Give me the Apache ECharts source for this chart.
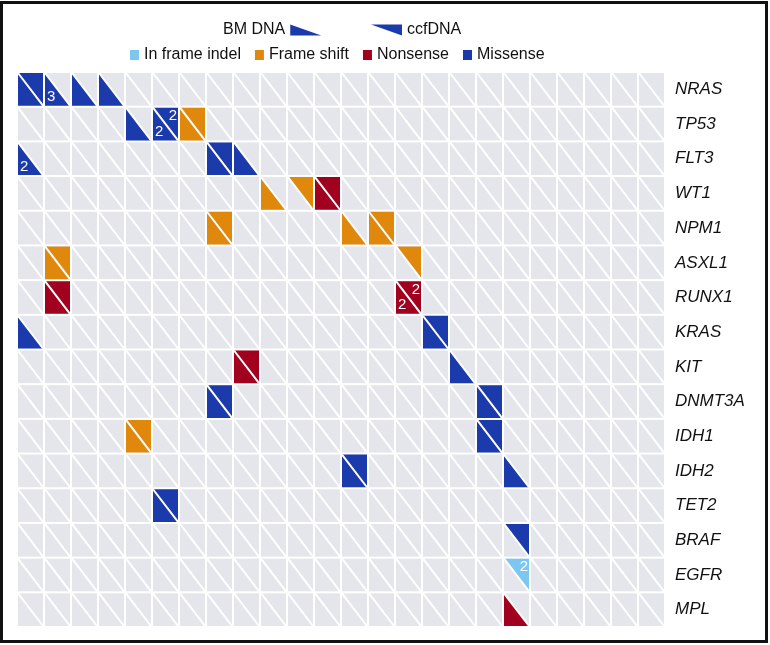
<!DOCTYPE html>
<html>
<head>
<meta charset="utf-8">
<script src="https://cdn.jsdelivr.net/npm/echarts@6/dist/echarts.min.js"></script>
<style>html,body{margin:0;padding:0;background:#fff;}#chart{width:770px;height:645px;}</style>
</head>
<body>
<div id="chart"></div>
<script>
const genes = ['NRAS','TP53','FLT3','WT1','NPM1','ASXL1','RUNX1','KRAS','KIT','DNMT3A','IDH1','IDH2','TET2','BRAF','EGFR','MPL'];
const patients = ['P1','P2','P3','P4','P5','P6','P7','P8','P9','P10','P11','P12','P13','P14','P15','P16','P17','P18','P19','P20','P21','P22','P23','P24'];
const mutationTypes = ['In frame indel','Frame shift','Nonsense','Missense'];
const sampleTypes = ['BM DNA','ccfDNA'];

// [patient, gene, mutation type, count]
const bmDNA = [
  ['P1','NRAS','Missense',1], ['P2','NRAS','Missense',3], ['P3','NRAS','Missense',1], ['P4','NRAS','Missense',1],
  ['P5','TP53','Missense',1], ['P6','TP53','Missense',2], ['P7','TP53','Frame shift',1],
  ['P1','FLT3','Missense',2], ['P8','FLT3','Missense',1], ['P9','FLT3','Missense',1],
  ['P10','WT1','Frame shift',1], ['P12','WT1','Nonsense',1],
  ['P8','NPM1','Frame shift',1], ['P13','NPM1','Frame shift',1], ['P14','NPM1','Frame shift',1],
  ['P2','ASXL1','Frame shift',1],
  ['P2','RUNX1','Nonsense',1], ['P15','RUNX1','Nonsense',2],
  ['P1','KRAS','Missense',1], ['P16','KRAS','Missense',1],
  ['P9','KIT','Nonsense',1], ['P17','KIT','Missense',1],
  ['P8','DNMT3A','Missense',1], ['P18','DNMT3A','Missense',1],
  ['P5','IDH1','Frame shift',1], ['P18','IDH1','Missense',1],
  ['P13','IDH2','Missense',1], ['P19','IDH2','Missense',1],
  ['P6','TET2','Missense',1],
  ['P19','MPL','Nonsense',1]
];
const ccfDNA = [
  ['P1','NRAS','Missense',1],
  ['P6','TP53','Missense',2], ['P7','TP53','Frame shift',1],
  ['P8','FLT3','Missense',1],
  ['P11','WT1','Frame shift',1], ['P12','WT1','Nonsense',1],
  ['P8','NPM1','Frame shift',1], ['P14','NPM1','Frame shift',1],
  ['P2','ASXL1','Frame shift',1], ['P15','ASXL1','Frame shift',1],
  ['P2','RUNX1','Nonsense',1], ['P15','RUNX1','Nonsense',2],
  ['P16','KRAS','Missense',1],
  ['P9','KIT','Nonsense',1],
  ['P8','DNMT3A','Missense',1], ['P18','DNMT3A','Missense',1],
  ['P5','IDH1','Frame shift',1], ['P18','IDH1','Missense',1],
  ['P13','IDH2','Missense',1],
  ['P6','TET2','Missense',1],
  ['P19','BRAF','Missense',1],
  ['P19','EGFR','In frame indel',2]
];

const typeColor = {
  'In frame indel': '#7CC6F2',
  'Frame shift': '#E0880C',
  'Nonsense': '#A2001F',
  'Missense': '#1B3AAB'
};
const GRAY = '#E4E6EB';
const FONT = "'Liberation Sans', Arial, sans-serif";

// every cell of the grid (structure only)
const allCells = [];
genes.forEach(g => patients.forEach(p => allCells.push([p, g])));

function cellBox(api) {
  const c = api.coord([api.value(0), api.value(1)]);
  const s = api.size([1, 1]);
  return {
    x0: c[0] - s[0] / 2 + 1, x1: c[0] + s[0] / 2 - 1,
    y0: c[1] - s[1] / 2 + 1, y1: c[1] + s[1] / 2 - 1
  };
}

function renderBg(params, api) {
  const b = cellBox(api);
  return { type: 'rect', shape: { x: b.x0, y: b.y0, width: b.x1 - b.x0, height: b.y1 - b.y0 }, style: { fill: GRAY } };
}
function renderDiag(params, api) {
  const b = cellBox(api);
  return { type: 'line', shape: { x1: b.x0, y1: b.y0, x2: b.x1, y2: b.y1 }, style: { stroke: '#fff', lineWidth: 2 } };
}
function makeTriangle(lower) {
  return function (params, api) {
    const b = cellBox(api);
    const type = api.value(2);
    const count = api.value(3);
    const pts = lower ? [[b.x0, b.y0], [b.x0, b.y1], [b.x1, b.y1]] : [[b.x0, b.y0], [b.x1, b.y0], [b.x1, b.y1]];
    const children = [{ type: 'polygon', shape: { points: pts }, style: { fill: typeColor[type] } }];
    if (count > 1) {
      children.push({
        type: 'text',
        style: lower
          ? { text: String(count), x: b.x0 + 2, y: b.y1 - 1, align: 'left', verticalAlign: 'bottom', fill: '#fff', font: '15px ' + FONT }
          : { text: String(count), x: b.x1 - 1, y: b.y0 + 1, align: 'right', verticalAlign: 'top', fill: '#fff', font: '15px ' + FONT }
      });
    }
    return { type: 'group', children: children };
  };
}

const chart = echarts.init(document.getElementById('chart'));
chart.setOption({
  backgroundColor: '#fff',
  animation: false,
  grid: { left: 17, right: 105, top: 72, bottom: 18 },
  xAxis: { type: 'category', data: patients, show: false },
  yAxis: {
    type: 'category', data: genes, inverse: true, position: 'right',
    axisLine: { show: false }, axisTick: { show: false }, splitLine: { show: false },
    axisLabel: { margin: 10, fontSize: 17, fontStyle: 'italic', color: '#111', fontFamily: FONT, align: 'left' }
  },
  legend: [
    {
      data: [{ name: 'BM DNA', icon: 'path://M0,0 L0,11 L31,11 Z' }],
      left: 218, top: 17, align: 'right', itemWidth: 31, itemHeight: 11, selectedMode: false,
      textStyle: { fontSize: 16, color: '#111', fontFamily: FONT }
    },
    {
      data: [{ name: 'ccfDNA', icon: 'path://M0,0 L31,0 L31,11 Z' }],
      left: 366, top: 17, align: 'left', itemWidth: 31, itemHeight: 11, selectedMode: false,
      textStyle: { fontSize: 16, color: '#111', fontFamily: FONT }
    },
    {
      data: mutationTypes.map(n => ({ name: n, icon: 'rect' })),
      left: 125, top: 42, itemWidth: 9, itemHeight: 10, itemGap: 14, selectedMode: false,
      textStyle: { fontSize: 16, color: '#111', fontFamily: FONT }
    }
  ],
  graphic: [{
    type: 'rect', shape: { x: 1.5, y: 2.5, width: 765, height: 639 },
    style: { fill: 'none', stroke: '#111', lineWidth: 3 }, z: 100, silent: true
  }],
  series: [
    { type: 'custom', name: 'bg', data: allCells, renderItem: renderBg, encode: { x: 0, y: 1 }, z: 1, silent: true },
    { type: 'custom', name: 'BM DNA', data: bmDNA, renderItem: makeTriangle(true), encode: { x: 0, y: 1 }, z: 2, itemStyle: { color: '#1B3AAB' } },
    { type: 'custom', name: 'ccfDNA', data: ccfDNA, renderItem: makeTriangle(false), encode: { x: 0, y: 1 }, z: 2, itemStyle: { color: '#1B3AAB' } },
    { type: 'custom', name: 'diag', data: allCells, renderItem: renderDiag, encode: { x: 0, y: 1 }, z: 3, silent: true }
  ].concat(mutationTypes.map(t => ({ type: 'scatter', name: t, data: [], itemStyle: { color: typeColor[t], opacity: 1 } })))
});
</script>
</body>
</html>
